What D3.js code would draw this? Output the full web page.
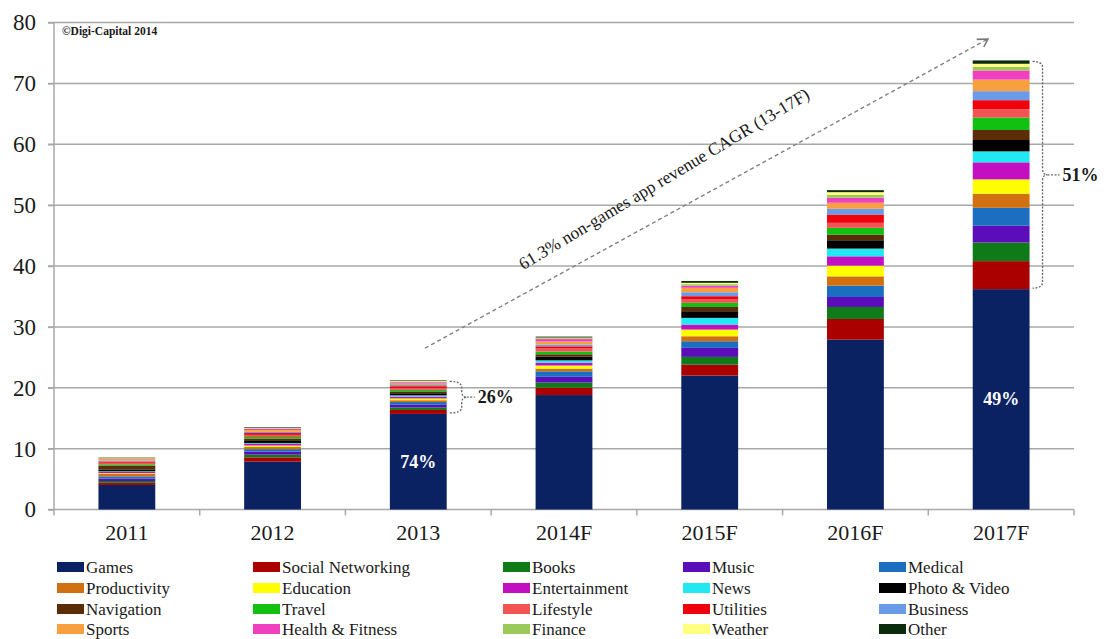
<!DOCTYPE html>
<html>
<head>
<meta charset="utf-8">
<script src="https://cdn.jsdelivr.net/npm/d3@7"></script>
<style>
  html, body { margin: 0; padding: 0; background: #fff; }
  svg { display: block; }
  text { font-family: "Liberation Serif", "Times New Roman", serif; fill: #1a1a1a; }
</style>
</head>
<body>
<svg id="chart" width="1104" height="639"></svg>
<script>
// App revenue by category, US$ billions
const years = ["2011", "2012", "2013", "2014F", "2015F", "2016F", "2017F"];

const seriesNames = [
  "Games", "Social Networking", "Books", "Music", "Medical",
  "Productivity", "Education", "Entertainment", "News", "Photo & Video",
  "Navigation", "Travel", "Lifestyle", "Utilities", "Business",
  "Sports", "Health & Fitness", "Finance", "Weather", "Other"
];

const seriesColors = [
  "#0b2262", "#aa0000", "#0e7a18", "#5a0db8", "#1b6ec0",
  "#d0700f", "#ffff00", "#c20fc2", "#22e8f2", "#000000",
  "#5a2d06", "#12c012", "#f25454", "#f0000c", "#6b9be8",
  "#f8a040", "#f040c0", "#9acb5a", "#ffff80", "#0b2c0b"
];

const yTicks = [0, 10, 20, 30, 40, 50, 60, 70, 80];

// One array per year, values in seriesNames order
const v2011  = [4.03, 0.35, 0.30, 0.40, 0.35, 0.45, 0.10, 0.20, 0.10, 0.30, 0.65, 0.20, 0.25, 0.20, 0.15, 0.25, 0.10, 0.10, 0.05, 0.05];
const v2012  = [7.86, 0.70, 0.45, 0.50, 0.40, 0.35, 0.25, 0.25, 0.15, 0.35, 0.40, 0.25, 0.35, 0.30, 0.20, 0.30, 0.20, 0.10, 0.05, 0.10];
const v2013  = [15.7, 0.65, 0.40, 0.45, 0.45, 0.30, 0.30, 0.30, 0.20, 0.35, 0.30, 0.25, 0.30, 0.30, 0.20, 0.25, 0.20, 0.10, 0.10, 0.10];
const v2014F = [18.8, 1.20, 0.85, 0.95, 0.90, 0.45, 0.50, 0.45, 0.40, 0.60, 0.40, 0.45, 0.50, 0.35, 0.30, 0.50, 0.40, 0.15, 0.10, 0.15];
const v2015F = [22.0, 1.80, 1.27, 1.48, 1.09, 0.82, 1.10, 0.82, 1.10, 1.09, 0.70, 0.68, 0.55, 0.54, 0.65, 0.73, 0.35, 0.25, 0.22, 0.30];
const v2016F = [27.9, 3.40, 1.97, 1.64, 1.86, 1.53, 1.76, 1.53, 1.27, 1.37, 0.94, 1.10, 0.82, 1.37, 0.94, 0.99, 0.82, 0.47, 0.45, 0.33];
const v2017F = [36.2, 4.60, 3.06, 2.75, 2.95, 2.30, 2.37, 2.80, 1.80, 1.87, 1.64, 2.05, 1.37, 1.48, 1.48, 1.90, 1.50, 0.60, 0.50, 0.55];

const byYear = [v2011, v2012, v2013, v2014F, v2015F, v2016F, v2017F];

// Table for d3.stack
const table = years.map((yr, i) => {
  const row = { year: yr };
  seriesNames.forEach((s, j) => { row[s] = byYear[i][j]; });
  return row;
});

const svg = d3.select("#chart");

const plot = { left: 54, right: 1074, top: 22.5, bottom: 509.5 };

const x = d3.scaleBand()
  .domain(years)
  .range([plot.left, plot.right])
  .paddingInner(0.61)
  .paddingOuter(0.305);

const y = d3.scaleLinear()
  .domain([0, 80])
  .range([plot.bottom, plot.top]);

const color = d3.scaleOrdinal().domain(seriesNames).range(seriesColors);

// Horizontal gridlines
svg.append("g")
  .selectAll("line")
  .data(yTicks.filter(d => d > 0))
  .join("line")
  .attr("x1", plot.left - 6)
  .attr("x2", plot.right)
  .attr("y1", d => y(d))
  .attr("y2", d => y(d))
  .attr("stroke", "#a8a8a8")
  .attr("stroke-width", 1.5);

// Value axis
const yAxis = svg.append("g")
  .attr("transform", `translate(${plot.left},0)`)
  .call(d3.axisLeft(y).tickValues(yTicks).tickSize(6).tickPadding(8).tickFormat(d3.format("d")));
yAxis.attr("font-family", null).attr("font-size", null);
yAxis.select(".domain").attr("stroke", "#a8a8a8").attr("stroke-width", 1.5).attr("d", `M0,${plot.bottom}V${plot.top}`);
yAxis.selectAll(".tick line").attr("stroke", "#a8a8a8").attr("stroke-width", 1.5);
yAxis.selectAll(".tick text")
  .style("font-family", "'Liberation Serif', serif")
  .style("font-size", "23px")
  .style("fill", "#1a1a1a")
  .attr("x", -18);

// Category axis: baseline, boundary ticks and labels
const xg = svg.append("g");
xg.append("line")
  .attr("x1", plot.left - 6).attr("x2", plot.right)
  .attr("y1", y(0)).attr("y2", y(0))
  .attr("stroke", "#a8a8a8").attr("stroke-width", 1.5);
xg.selectAll("line.bound")
  .data(d3.range(years.length + 1))
  .join("line")
  .attr("class", "bound")
  .attr("x1", i => x.range()[0] + i * x.step())
  .attr("x2", i => x.range()[0] + i * x.step())
  .attr("y1", y(0)).attr("y2", y(0) + 6)
  .attr("stroke", "#a8a8a8").attr("stroke-width", 1.5);
xg.selectAll("text")
  .data(years)
  .join("text")
  .attr("x", d => x(d) + x.bandwidth() / 2)
  .attr("y", y(0) + 30)
  .attr("text-anchor", "middle")
  .attr("font-size", 22)
  .text(d => d);

// Stacked bars
const stacked = d3.stack().keys(seriesNames)(table);
svg.append("g")
  .selectAll("g")
  .data(stacked)
  .join("g")
  .attr("fill", d => color(d.key))
  .selectAll("rect")
  .data(d => d)
  .join("rect")
  .attr("x", d => x(d.data.year))
  .attr("width", x.bandwidth())
  .attr("y", d => y(d[1]))
  .attr("height", d => y(d[0]) - y(d[1]));

// Copyright
svg.append("text")
  .attr("x", 62).attr("y", 35)
  .attr("font-size", 11.5)
  .attr("font-weight", "bold")
  .attr("fill", "#333")
  .text("©Digi-Capital 2014");

// Share labels computed from the stacked values
const totalOf = i => d3.sum(byYear[i]);
const pct = d3.format(".0%");
const idx2013 = years.indexOf("2013");
const idx2017 = years.indexOf("2017F");

function gamesLabel(i) {
  const g = byYear[i][0];
  svg.append("text")
    .attr("x", x(years[i]) + x.bandwidth() / 2)
    .attr("y", y(g / 2) + 6)
    .attr("text-anchor", "middle")
    .attr("font-size", 18)
    .attr("font-weight", "bold")
    .style("fill", "#fff")
    .text(pct(g / totalOf(i)));
}
gamesLabel(idx2013);
gamesLabel(idx2017);

// Dotted brace spanning the non-games part of a bar
function brace(i, w, labelGap) {
  const g = byYear[i][0];
  const t = totalOf(i);
  const x0 = x(years[i]) + x.bandwidth() + 3;
  const y0 = y(t) + 1, y1 = y(g) - 1, ym = (y0 + y1) / 2;
  const xr = x0 + w;
  const r = Math.min(6, (y1 - y0) / 5);
  const p = `M${x0},${y0} Q${xr},${y0} ${xr},${y0 + r} L${xr},${ym - r} Q${xr},${ym} ${xr + 5},${ym}` +
            ` Q${xr},${ym} ${xr},${ym + r} L${xr},${y1 - r} Q${xr},${y1} ${x0},${y1}`;
  svg.append("path")
    .attr("d", p)
    .attr("fill", "none")
    .attr("stroke", "#666")
    .attr("stroke-width", 1.3)
    .attr("stroke-dasharray", "2,1.5");
  svg.append("line")
    .attr("x1", xr + 5).attr("x2", xr + labelGap - 3)
    .attr("y1", ym).attr("y2", ym)
    .attr("stroke", "#666").attr("stroke-width", 1.3).attr("stroke-dasharray", "2,1.5");
  svg.append("text")
    .attr("x", xr + labelGap)
    .attr("y", ym + 6)
    .attr("font-size", 18)
    .attr("font-weight", "bold")
    .text(pct(1 - g / t));
}
brace(idx2013, 12, 16);
brace(idx2017, 10, 20);

// CAGR trend arrow
svg.append("defs").append("marker")
  .attr("id", "head")
  .attr("viewBox", "0 0 10 10")
  .attr("refX", 9).attr("refY", 5)
  .attr("markerWidth", 9).attr("markerHeight", 9)
  .attr("orient", "auto")
  .append("path")
  .attr("d", "M1,1 L9,5 L3,9")
  .attr("fill", "none")
  .attr("stroke", "#777")
  .attr("stroke-width", 1.2);

const a0 = [425, y(26.5)], a1 = [988, y(77.3)];
svg.append("line")
  .attr("x1", a0[0]).attr("y1", a0[1])
  .attr("x2", a1[0]).attr("y2", a1[1])
  .attr("stroke", "#808080")
  .attr("stroke-width", 1.4)
  .attr("stroke-dasharray", "4,3")
  .attr("marker-end", "url(#head)");

svg.append("text")
  .attr("transform", "translate(667,184) rotate(-31)")
  .attr("text-anchor", "middle")
  .attr("font-size", 17.5)
  .text("61.3% non-games app revenue CAGR (13-17F)");

// Legend
const legendCols = [57, 253, 503, 683, 879];
const legendRows = [567, 588, 609, 629];
const legend = svg.append("g")
  .selectAll("g")
  .data(seriesNames)
  .join("g")
  .attr("transform", (d, i) => `translate(${legendCols[i % 5]},${legendRows[Math.floor(i / 5)]})`);
legend.append("rect")
  .attr("x", 0).attr("y", -5)
  .attr("width", 27).attr("height", 10)
  .attr("fill", d => color(d));
legend.append("text")
  .attr("x", 29).attr("y", 5.5)
  .attr("font-size", 17)
  .text(d => d);
</script>
</body>
</html>
